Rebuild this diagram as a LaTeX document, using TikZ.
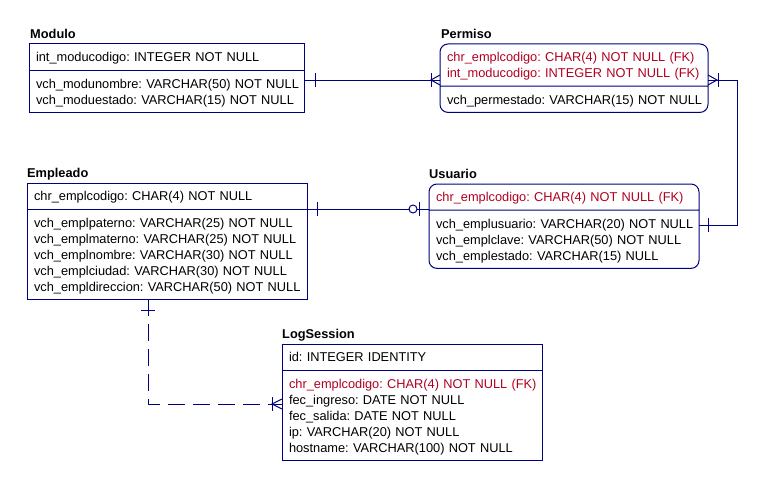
\documentclass[tikz,border=0pt]{standalone}
\usepackage{fontspec}
\setmainfont{Liberation Sans}
\usetikzlibrary{shapes.multipart}
\definecolor{erblue}{RGB}{0,0,128}
\definecolor{fkred}{RGB}{176,0,32}
\newcommand\fld[1]{\leavevmode\vrule height12.8pt depth3.2pt width0pt\mbox{#1}\par}
\newcommand\fkfld[1]{{\color{fkred}\fld{#1}}}
\begin{document}
\begin{tikzpicture}[x=1pt,y=-1pt,
title/.style={%
font={\bfseries\fontsize{12.8pt}{16pt}\selectfont},
inner sep=0,
anchor=base west,
},
entity/.style={%
rectangle split,
rectangle split parts=2,
draw=erblue,
line width=1pt,
font={\fontsize{12.8pt}{16pt}\selectfont\frenchspacing},
inner xsep=7pt,
inner ysep=4.6pt,
outer sep=0,
align=left,
anchor=north west,
},
dep/.style={%
entity,
rounded corners=8pt,
},
rel/.style={
draw=erblue,
line width=1pt,
}
]
\useasboundingbox (0,0) rectangle (776,487);

%Modulo
\node[title](modT)at(30,38.5){Modulo};
\node[entity,text width=261pt](mod)at(29,44){\fld{int\_moducodigo: INTEGER NOT NULL}
\nodepart{two}\fld{vch\_modunombre: VARCHAR(50) NOT NULL}
\fld{vch\_moduestado: VARCHAR(15) NOT NULL}};

%Permiso
\node[title](perT)at(441,38.5){Permiso};
\node[dep,text width=254pt](per)at(440,44){\fkfld{chr\_emplcodigo: CHAR(4) NOT NULL (FK)}
\fkfld{int\_moducodigo: INTEGER NOT NULL (FK)}
\nodepart{two}\fld{vch\_permestado: VARCHAR(15) NOT NULL}};

%Empleado
\node[title](empT)at(27,177.5){Empleado};
\node[entity,text width=266pt](emp)at(27,183){\fld{chr\_emplcodigo: CHAR(4) NOT NULL}
\nodepart{two}\fld{vch\_emplpaterno: VARCHAR(25) NOT NULL}
\fld{vch\_emplmaterno: VARCHAR(25) NOT NULL}
\fld{vch\_emplnombre: VARCHAR(30) NOT NULL}
\fld{vch\_emplciudad: VARCHAR(30) NOT NULL}
\fld{vch\_empldireccion: VARCHAR(50) NOT NULL}};

%Usuario
\node[title](usuT)at(429,178.5){Usuario};
\node[dep,text width=256pt](usu)at(429,184){\fkfld{chr\_emplcodigo: CHAR(4) NOT NULL (FK)}
\nodepart{two}\fld{vch\_emplusuario: VARCHAR(20) NOT NULL}
\fld{vch\_emplclave: VARCHAR(50) NOT NULL}
\fld{vch\_emplestado: VARCHAR(15) NULL}};

%LogSession
\node[title](logT)at(282,338.5){LogSession};
\node[entity,text width=246pt](log)at(282,344){\fld{id: INTEGER IDENTITY}
\nodepart{two}\fkfld{chr\_emplcodigo: CHAR(4) NOT NULL (FK)}
\fld{fec\_ingreso: DATE NOT NULL}
\fld{fec\_salida: DATE NOT NULL}
\fld{ip: VARCHAR(20) NOT NULL}
\fld{hostname: VARCHAR(100) NOT NULL}};

%Modulo - Permiso
\coordinate(mp)at(mod.east|-0,80);
\coordinate(pm)at(per.west|-0,80);
\draw[rel](mp)--(pm);
\draw[rel]([xshift=11pt]mp)++(0,-7)--++(0,14);
\draw[rel]([xshift=-9pt]pm)++(0,-7)--++(0,14);
\draw[rel](pm)++(0,-5)--++(-9,5)--++(9,5);

%Permiso - Usuario
\coordinate(pu)at(per.east|-0,80);
\coordinate(up)at(usu.east|-0,225);
\draw[rel](pu)--++(29,0)|-(up);
\draw[rel](pu)++(0,-5)--++(9,5)--++(-9,5);
\draw[rel]([xshift=10pt]pu)++(0,-7)--++(0,14);
\draw[rel]([xshift=9pt]up)++(0,-7)--++(0,14);

%Empleado - Usuario
\coordinate(eu)at(emp.east|-0,209);
\coordinate(ue)at(usu.west|-0,209);
\draw[rel](eu)--(ue);
\draw[rel]([xshift=10pt]eu)++(0,-7)--++(0,14);
\draw[rel]([xshift=-10pt]ue)++(0,-7)--++(0,14);
\draw[rel,fill=white]([xshift=-16pt]ue)circle(4pt);

%Empleado - LogSession
\coordinate(el)at(emp.south-|148,0);
\coordinate(le)at(log.west|-0,404);
\draw[rel,dash pattern=on 17pt off 8pt](el)|-(le);
\draw[rel]([yshift=-11pt]el)++(-7,0)--++(14,0);
\draw[rel]([xshift=-10pt]le)++(0,-7)--++(0,14);
\draw[rel](le)++(0,-5)--++(-10,5)--++(10,5);
\end{tikzpicture}
\end{document}
